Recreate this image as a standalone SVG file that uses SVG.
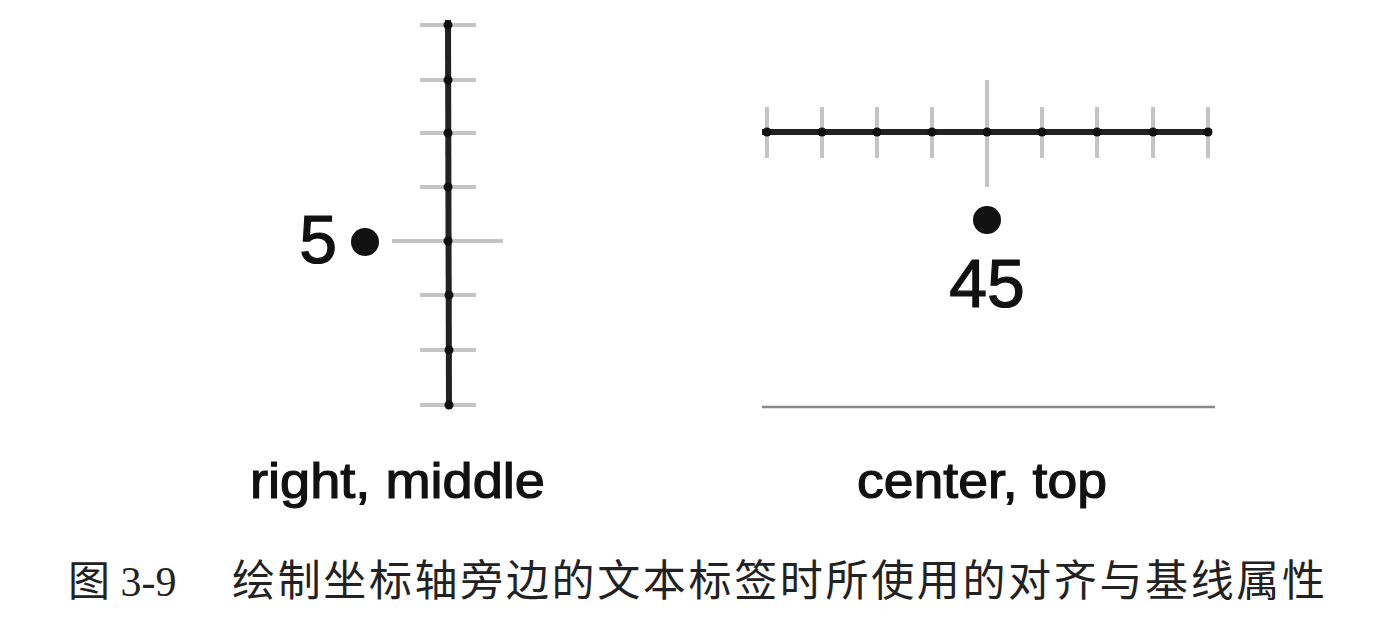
<svg xmlns="http://www.w3.org/2000/svg" width="1400" height="632" viewBox="0 0 1400 632">
<style>
.tick{stroke:#c4c4c4;stroke-width:4}
.axis{stroke:#222;stroke-width:6}
.pt{fill:#111}
.lbl{font-family:"Liberation Sans",Arial,sans-serif;fill:#111;stroke:#111;stroke-width:1.2}
.cap{font-family:"Liberation Serif","Noto Sans CJK SC",serif;fill:#222}
</style>
<rect width="1400" height="632" fill="#fff"/>
<g id="left-axis">
<line class="tick" x1="420" y1="25" x2="476" y2="25"/>
<line class="tick" x1="420" y1="80" x2="476" y2="80"/>
<line class="tick" x1="420" y1="133" x2="476" y2="133"/>
<line class="tick" x1="420" y1="187" x2="476" y2="187"/>
<line class="tick" x1="392" y1="241" x2="503" y2="241"/>
<line class="tick" x1="420" y1="295" x2="476" y2="295"/>
<line class="tick" x1="420" y1="350" x2="476" y2="350"/>
<line class="tick" x1="420" y1="405" x2="476" y2="405"/>
<line class="axis" x1="448" y1="20" x2="449" y2="408"/>
<g class="pt">
<circle cx="448" cy="25" r="4.5"/><circle cx="448" cy="80" r="4.5"/><circle cx="448" cy="133" r="4.5"/><circle cx="448" cy="187" r="4.5"/>
<circle cx="448" cy="241" r="4.5"/><circle cx="449" cy="295" r="4.5"/><circle cx="449" cy="350" r="4.5"/><circle cx="449" cy="405" r="4.5"/>
</g>
<circle class="pt" cx="365" cy="242" r="14"/>
<text class="lbl" x="337" y="263" font-size="68" text-anchor="end">5</text>
<text class="lbl" x="250" y="498" font-size="50" textLength="295" lengthAdjust="spacingAndGlyphs">right, middle</text>
</g>
<g id="right-axis">
<line class="tick" x1="767" y1="107" x2="767" y2="158"/>
<line class="tick" x1="822" y1="107" x2="822" y2="158"/>
<line class="tick" x1="877" y1="107" x2="877" y2="158"/>
<line class="tick" x1="932" y1="107" x2="932" y2="158"/>
<line class="tick" x1="987" y1="80" x2="987" y2="187"/>
<line class="tick" x1="1042" y1="107" x2="1042" y2="158"/>
<line class="tick" x1="1097" y1="107" x2="1097" y2="158"/>
<line class="tick" x1="1153" y1="107" x2="1153" y2="158"/>
<line class="tick" x1="1208" y1="107" x2="1208" y2="158"/>
<line class="axis" x1="762" y1="132" x2="1212" y2="132"/>
<g class="pt">
<circle cx="767" cy="132" r="4.5"/><circle cx="822" cy="132" r="4.5"/><circle cx="877" cy="132" r="4.5"/><circle cx="932" cy="132" r="4.5"/>
<circle cx="987" cy="132" r="4.5"/><circle cx="1042" cy="132" r="4.5"/><circle cx="1097" cy="132" r="4.5"/><circle cx="1153" cy="132" r="4.5"/><circle cx="1208" cy="132" r="4.5"/>
</g>
<circle class="pt" cx="987" cy="220" r="14"/>
<text class="lbl" x="987" y="307" font-size="68" text-anchor="middle">45</text>
<line x1="762" y1="407" x2="1215" y2="407" stroke="#888" stroke-width="2.5"/>
<text class="lbl" x="857" y="498" font-size="50" textLength="250" lengthAdjust="spacingAndGlyphs">center, top</text>
</g>
<g id="caption">
<text class="cap" x="68" y="596" font-size="42">图 3-9</text>
<text class="cap" x="232" y="596" font-size="43" textLength="1093" lengthAdjust="spacing">绘制坐标轴旁边的文本标签时所使用的对齐与基线属性</text>
</g>
</svg>
